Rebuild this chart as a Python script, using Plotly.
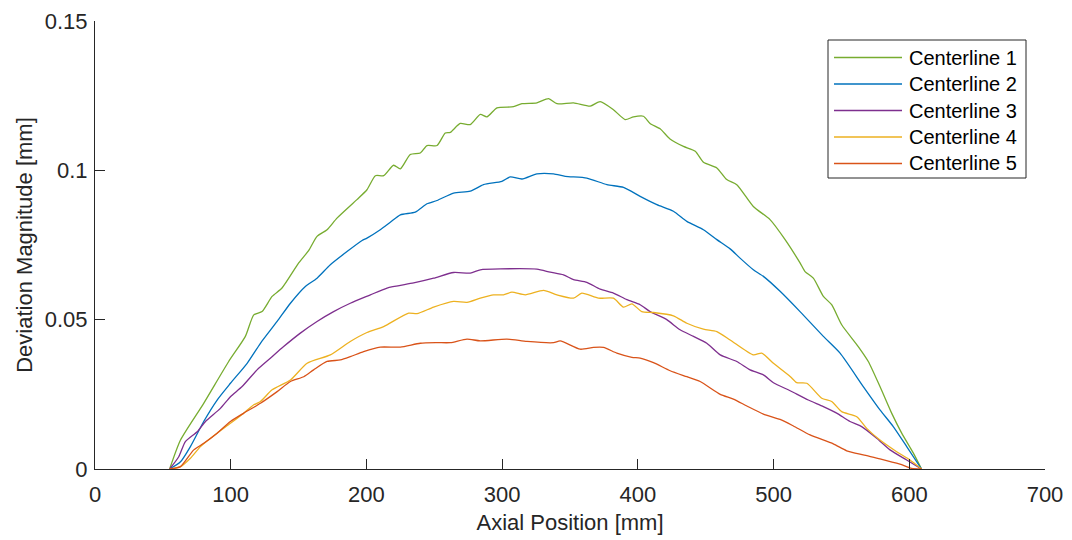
import plotly.graph_objects as go

# ---- data ----
c1_x = [55, 63, 80.1, 98.5, 110.8, 117, 123.1, 130.5, 137.8, 150.1, 157.4, 163.6, 171, 178.3, 193, 200.4, 206.6, 212.7, 220, 225, 232.3, 239.7, 244.6, 252, 258.1, 261.8, 269.1, 276.5, 283.9, 288.8, 296.2, 308.4, 314.6, 325.6, 334.2, 340.4, 352.6, 364.9, 372.2, 382, 390.6, 396.8, 404.1, 409, 416.4, 423.7, 433.6, 442.3, 448.3, 458.2, 465.5, 472.9, 485.1, 497.4, 508.5, 519.5, 523.2, 529.3, 536.7, 542.8, 550.2, 562.4, 569.8, 578.4, 587, 594.4, 603, 609]
c1_y = [0, 0.0097, 0.022, 0.036, 0.0444, 0.0516, 0.0527, 0.0578, 0.0606, 0.069, 0.0731, 0.0779, 0.0801, 0.084, 0.0902, 0.0935, 0.0982, 0.0982, 0.1017, 0.1005, 0.1053, 0.1058, 0.1083, 0.1083, 0.1125, 0.1127, 0.1157, 0.1153, 0.1187, 0.1179, 0.1209, 0.1213, 0.1223, 0.1226, 0.124, 0.1223, 0.1226, 0.1215, 0.123, 0.1203, 0.117, 0.1179, 0.1181, 0.1157, 0.1139, 0.1105, 0.108, 0.1064, 0.1027, 0.1008, 0.0969, 0.0952, 0.0879, 0.0835, 0.0768, 0.069, 0.0661, 0.0639, 0.0578, 0.055, 0.0483, 0.041, 0.036, 0.0276, 0.0187, 0.012, 0.0053, 0]

c2_x = [55, 63, 70.3, 80.1, 90, 99.8, 112.1, 121.9, 134.2, 144, 155, 163.6, 173.4, 185.7, 196.8, 200.4, 210.2, 217.6, 225, 236, 244.6, 252, 264.2, 276.5, 286.3, 299.8, 306, 314.6, 325.6, 337.9, 346.5, 362.4, 377.2, 389.4, 401.7, 414, 426.2, 436.1, 448.3, 458.2, 468, 475.3, 485.1, 492.5, 504.8, 519.5, 536.7, 549, 566.1, 578.4, 588.2, 598.1, 609]
c2_y = [0, 0.0024, 0.0075, 0.0159, 0.0231, 0.0287, 0.0354, 0.0421, 0.0494, 0.0555, 0.0611, 0.0639, 0.0684, 0.0728, 0.0765, 0.0773, 0.0801, 0.0826, 0.0851, 0.086, 0.0888, 0.0899, 0.0924, 0.093, 0.0952, 0.0963, 0.0978, 0.0971, 0.0988, 0.0988, 0.098, 0.0974, 0.0952, 0.0943, 0.0913, 0.0885, 0.0863, 0.0829, 0.0801, 0.0768, 0.0737, 0.0706, 0.0667, 0.0645, 0.0595, 0.0527, 0.0444, 0.0388, 0.0276, 0.0198, 0.0142, 0.0075, 0]

c3_x = [55, 61.7, 66.6, 75.3, 81.4, 92.4, 99.8, 108.4, 119.4, 129.2, 139, 151.3, 163.6, 175.8, 188.1, 202.9, 215.2, 234.8, 249.5, 264.2, 276.5, 283.9, 298.6, 325.6, 335.4, 345.2, 352.6, 362.4, 372.2, 382, 391.9, 401.7, 409, 421.3, 431.1, 441, 450.8, 460.7, 472.9, 482.7, 492.5, 499.9, 512.2, 525.6, 536.7, 546.5, 556.3, 564.9, 576, 585.8, 598.1, 609]
c3_y = [0, 0.0041, 0.0092, 0.0125, 0.0159, 0.0203, 0.0242, 0.0276, 0.0332, 0.0371, 0.041, 0.0455, 0.0494, 0.0527, 0.0555, 0.0583, 0.0606, 0.0623, 0.0639, 0.0658, 0.0656, 0.0667, 0.067, 0.0669, 0.0659, 0.065, 0.0634, 0.0625, 0.0602, 0.0589, 0.0567, 0.055, 0.0527, 0.05, 0.0466, 0.0444, 0.0421, 0.0382, 0.036, 0.0332, 0.0315, 0.0289, 0.0262, 0.0231, 0.0209, 0.0187, 0.0159, 0.0142, 0.0103, 0.0064, 0.003, 0]

c4_x = [55, 63, 70.3, 77.7, 90, 99.8, 109.6, 117, 121.9, 130.5, 144, 156.3, 173.4, 188.1, 200.4, 212.7, 231.1, 237.3, 249.5, 264.2, 274.1, 283.9, 293.7, 301, 307.2, 317, 330.5, 340.4, 352.6, 358.7, 371, 382, 389.4, 395.6, 402.9, 411.5, 426.2, 436.1, 448.3, 458.2, 468, 485.1, 491.3, 499.9, 512.2, 517.1, 524.5, 535.5, 542.8, 550.2, 561.3, 568.6, 578.4, 590.7, 600.5, 609]
c4_y = [0, 0.0008, 0.0036, 0.0075, 0.012, 0.0153, 0.0187, 0.0215, 0.0226, 0.0265, 0.0298, 0.0354, 0.0382, 0.0427, 0.0457, 0.0477, 0.0522, 0.052, 0.0542, 0.0561, 0.0558, 0.0572, 0.0583, 0.0583, 0.0592, 0.0583, 0.0598, 0.0583, 0.0572, 0.0589, 0.0572, 0.0572, 0.0542, 0.0553, 0.0527, 0.0524, 0.0513, 0.0488, 0.0468, 0.046, 0.0432, 0.0382, 0.0388, 0.0354, 0.031, 0.0289, 0.0287, 0.0237, 0.0226, 0.0192, 0.0175, 0.0136, 0.0097, 0.0058, 0.003, 0]

c5_x = [55, 63, 72.8, 80.1, 90, 99.8, 109.6, 121.9, 134.2, 144, 153.8, 161.1, 171, 180.8, 188.1, 197.9, 210.2, 225, 239.7, 252, 261.8, 274.1, 283.9, 303.5, 318.3, 337.9, 342.8, 357.5, 367.3, 374.7, 384.5, 395.6, 401.7, 411.5, 423.8, 436.1, 445.9, 460.7, 470.4, 480.3, 492.5, 504.8, 514.6, 526.9, 544, 553.9, 566.1, 578.4, 593.1, 601.7, 609]
c5_y = [0, 0.0008, 0.0064, 0.0086, 0.012, 0.0159, 0.0187, 0.022, 0.0259, 0.0293, 0.0309, 0.0332, 0.036, 0.0365, 0.0376, 0.0393, 0.0408, 0.0408, 0.0421, 0.0423, 0.0423, 0.0435, 0.0429, 0.0435, 0.0427, 0.0423, 0.0429, 0.0401, 0.0407, 0.0407, 0.0388, 0.0374, 0.0371, 0.0356, 0.0329, 0.0309, 0.0293, 0.025, 0.0234, 0.0211, 0.0184, 0.0166, 0.0144, 0.0114, 0.0084, 0.0061, 0.0047, 0.0034, 0.0016, 0.0002, 0]

names = ["Centerline 1", "Centerline 2", "Centerline 3", "Centerline 4", "Centerline 5"]
colors = ["#77AC30", "#0072BD", "#7E2F8E", "#EDB120", "#D95319"]
xs = [c1_x, c2_x, c3_x, c4_x, c5_x]
ys = [c1_y, c2_y, c3_y, c4_y, c5_y]

x_ticks = [0, 100, 200, 300, 400, 500, 600, 700]
y_ticks = [0, 0.05, 0.1, 0.15]
y_tick_labels = ["0", "0.05", "0.1", "0.15"]

AX = "#262626"
FONT = "Liberation Sans, Arial, Helvetica, sans-serif"

fig = go.Figure()
for n, c, x, y in zip(names, colors, xs, ys):
    fig.add_trace(go.Scatter(x=x, y=y, mode="lines", name=n,
                             line=dict(color=c, width=1.3, shape="spline", smoothing=0.6)))

# ---- legend drawn in paper coordinates (MATLAB-style box) ----
PL, PR, PT, PB = 95, 1045, 21, 469          # plot-area pixel edges
def px_x(p):
    return (p - PL) / (PR - PL)
def px_y(p):
    return (PB - p) / (PB - PT)

shapes = [dict(type="rect", xref="paper", yref="paper",
               x0=px_x(828), x1=px_x(1026), y0=px_y(178), y1=px_y(40),
               line=dict(color=AX, width=1), fillcolor="white", layer="above")]
annotations = []
for i, (n, c) in enumerate(zip(names, colors)):
    yc = px_y(57.5 + 26.5 * i)
    shapes.append(dict(type="line", xref="paper", yref="paper",
                       x0=px_x(834), x1=px_x(902), y0=yc, y1=yc,
                       line=dict(color=c, width=1.3), layer="above"))
    annotations.append(dict(xref="paper", yref="paper", x=px_x(907), y=yc,
                            xanchor="left", yanchor="middle", text=n, showarrow=False,
                            font=dict(family=FONT, size=20, color="black")))

fig.update_layout(
    width=1072, height=540, autosize=False,
    margin=dict(l=PL, r=1072 - PR, t=PT, b=540 - PB, pad=0, autoexpand=False),
    paper_bgcolor="white", plot_bgcolor="white",
    font=dict(family=FONT, color=AX, size=22),
    showlegend=False,
    shapes=shapes,
    annotations=annotations,
    xaxis=dict(
        range=[0, 700], tickvals=x_ticks, ticks="inside", ticklen=10,
        tickcolor=AX, showline=True, linecolor=AX, linewidth=1,
        showgrid=False, zeroline=False, mirror=False, automargin=False,
        tickfont=dict(size=22, color=AX), ticklabelstandoff=6,
        title=dict(text="Axial Position [mm]", font=dict(size=22, color=AX), standoff=8),
    ),
    yaxis=dict(
        range=[0, 0.15], tickvals=y_ticks, ticktext=y_tick_labels, ticks="inside", ticklen=10,
        tickcolor=AX, showline=True, linecolor=AX, linewidth=1,
        showgrid=False, zeroline=False, mirror=False, automargin=False,
        tickfont=dict(size=22, color=AX), ticklabelstandoff=2,
        title=dict(text="Deviation Magnitude [mm]", font=dict(size=22, color=AX), standoff=6),
    ),
)

fig.write_html("out.html")
